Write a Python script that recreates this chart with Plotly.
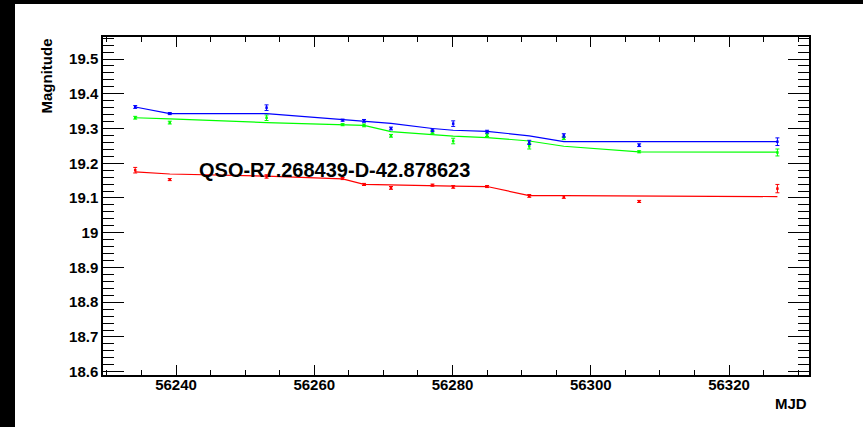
import plotly.graph_objects as go

# Epochs (MJD) of the light-curve observations
mjd = [56234.1, 56239.1, 56253.1, 56264.1, 56267.2, 56271.1, 56277.1,
       56280.1, 56285.0, 56291.1, 56296.1, 56307.0, 56327.0]

# Observed magnitudes and 1-sigma errors per band
mag_blue = [19.362, 19.343, 19.360, 19.324, 19.322, 19.300, 19.295,
            19.314, 19.291, 19.260, 19.280, 19.252, 19.262]
err_blue = [0.004, 0.003, 0.008, 0.003, 0.004, 0.004, 0.004,
            0.008, 0.004, 0.006, 0.005, 0.004, 0.011]
mag_green = [19.331, 19.317, 19.331, 19.311, 19.309, 19.279, 19.290,
             19.264, 19.281, 19.249, 19.272, 19.233, 19.231]
err_green = [0.004, 0.004, 0.008, 0.003, 0.004, 0.004, 0.004,
             0.008, 0.004, 0.008, 0.004, 0.003, 0.010]
mag_red = [19.180, 19.153, 19.162, 19.156, 19.139, 19.129, 19.137,
           19.132, 19.133, 19.106, 19.103, 19.090, 19.127]
err_red = [0.008, 0.003, 0.005, 0.003, 0.003, 0.004, 0.003,
           0.004, 0.003, 0.004, 0.004, 0.003, 0.012]

# Model light curves evaluated at each epoch
model_blue = [19.362, 19.343, 19.343, 19.326, 19.322, 19.315, 19.300,
              19.295, 19.292, 19.279, 19.262, 19.262, 19.262]
model_green = [19.331, 19.328, 19.317, 19.312, 19.309, 19.291, 19.283,
               19.278, 19.274, 19.264, 19.249, 19.233, 19.232]
model_red = [19.175, 19.169, 19.163, 19.155, 19.139, 19.137, 19.135,
             19.134, 19.133, 19.107, 19.107, 19.106, 19.104]

# Axis ticks
x_ticks = [56240, 56260, 56280, 56300, 56320]
x_tick_text = ["56240", "56260", "56280", "56300", "56320"]
y_ticks = [18.6, 18.7, 18.8, 18.9, 19.0, 19.1, 19.2, 19.3, 19.4, 19.5]
y_tick_text = ["18.6", "18.7", "18.8", "18.9", "19", "19.1", "19.2",
               "19.3", "19.4", "19.5"]

object_name = "QSO-R7.268439-D-42.878623"

W, H = 863, 427
ML, MR, MT, MB = 103, 54, 37, 52
PW, PH = W - ML - MR, H - MT - MB


def paper_x(px):
    return (px - ML) / PW


def paper_y(py):
    return (H - MB - py) / PH


FONT = "Liberation Sans, Arial, Helvetica, sans-serif"

fig = go.Figure()

bands = [
    ("red", "#ff0000", mag_red, err_red, model_red),
    ("green", "#00ff00", mag_green, err_green, model_green),
    ("blue", "#0000ff", mag_blue, err_blue, model_blue),
]

for name, color, mags, errs, model in bands:
    fig.add_trace(go.Scatter(
        x=mjd, y=model, mode="lines", name=name + " model",
        line=dict(color=color, width=1.2), hoverinfo="skip",
    ))
    fig.add_trace(go.Scatter(
        x=mjd, y=mags, mode="markers", name=name,
        marker=dict(color=color, size=2.5, symbol="square"),
        error_y=dict(type="data", array=errs, color=color,
                     thickness=1, width=2),
    ))

axis_common = dict(
    showline=True, linecolor="black", linewidth=1.5, mirror="ticks",
    ticks="inside", tickcolor="black", tickwidth=1,
    showgrid=False, zeroline=False,
    tickfont=dict(family=FONT, size=15, color="black", weight="bold"),
)

fig.update_xaxes(
    range=[56229.44, 56331.57],
    tickmode="array", tickvals=x_ticks, ticktext=x_tick_text,
    ticklen=10, ticklabelstandoff=-5,
    minor=dict(tickmode="linear", tick0=56230, dtick=5, ticks="inside",
               ticklen=5, tickcolor="black", tickwidth=1, showgrid=False),
    **axis_common,
)
fig.update_yaxes(
    range=[18.5905, 19.5634],
    tickmode="array", tickvals=y_ticks, ticktext=y_tick_text,
    ticklen=21,
    minor=dict(tickmode="linear", tick0=18.6, dtick=0.02, ticks="inside",
               ticklen=11, tickcolor="black", tickwidth=1, showgrid=False),
    **axis_common,
)

fig.add_annotation(
    text=object_name, xref="paper", yref="paper",
    x=paper_x(197), y=paper_y(170), xanchor="left", yanchor="middle",
    showarrow=False, font=dict(family=FONT, size=20, color="black", weight="bold"),
)
fig.add_annotation(
    text="Magnitude", xref="paper", yref="paper",
    x=paper_x(46), y=1, xanchor="center", yanchor="top", textangle=-90,
    showarrow=False, font=dict(family=FONT, size=15, color="black", weight="bold"),
)
fig.add_annotation(
    text="MJD", xref="paper", yref="paper",
    x=paper_x(809), y=paper_y(403), xanchor="right", yanchor="middle",
    showarrow=False, font=dict(family=FONT, size=15, color="black", weight="bold"),
)

# Dark window edges along the top and left of the canvas
fig.add_shape(type="rect", xref="paper", yref="paper",
              x0=paper_x(0), x1=paper_x(15), y0=paper_y(H), y1=paper_y(0),
              fillcolor="black", line=dict(width=0), layer="above")
fig.add_shape(type="rect", xref="paper", yref="paper",
              x0=paper_x(0), x1=paper_x(W), y0=paper_y(4), y1=paper_y(0),
              fillcolor="black", line=dict(width=0), layer="above")

fig.update_layout(
    width=W, height=H,
    margin=dict(l=ML, r=MR, t=MT, b=MB, pad=0),
    paper_bgcolor="white", plot_bgcolor="white",
    showlegend=False,
    font=dict(family=FONT, color="black"),
)

fig.write_html("out.html")
